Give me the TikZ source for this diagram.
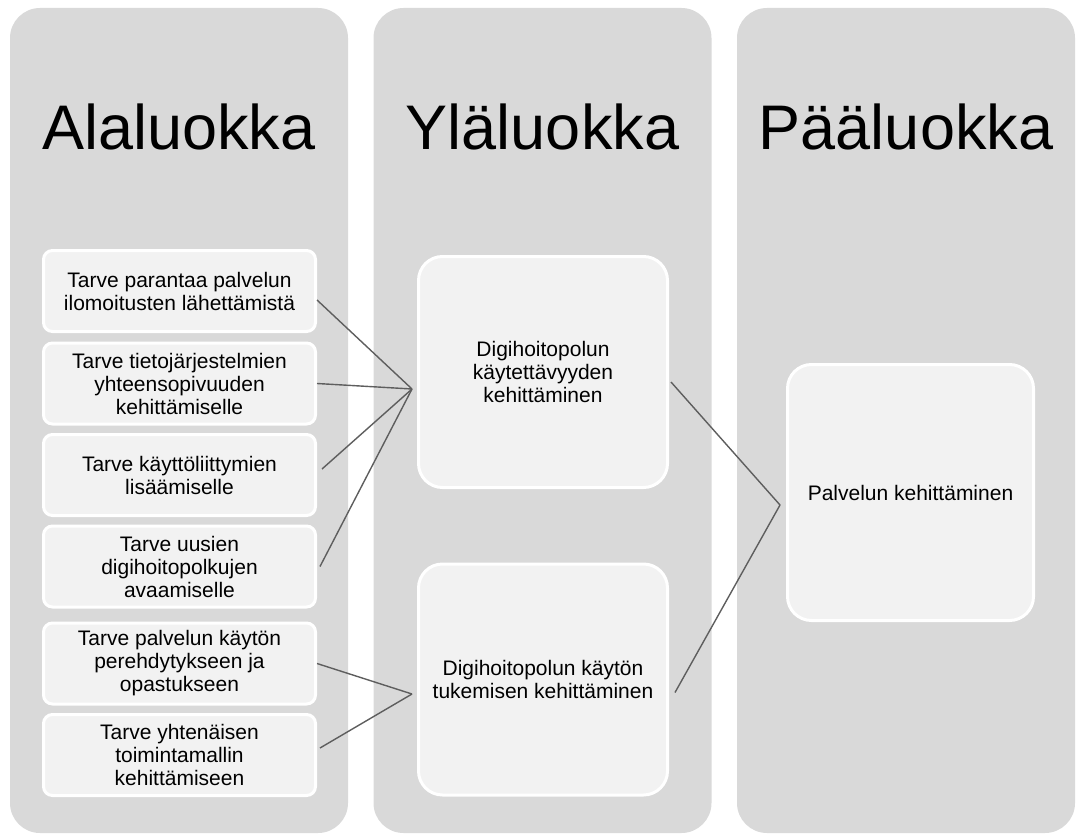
\documentclass[tikz,border=0pt]{standalone}
\usepackage{fontspec}
\setmainfont{Liberation Sans}
\usetikzlibrary{positioning}
\definecolor{lanegray}{HTML}{D9D9D9}
\definecolor{boxgray}{HTML}{F2F2F2}
\definecolor{linkgray}{HTML}{5E5E5E}
\tikzset{
  lane/.style={fill=lanegray, rounded corners=30pt, minimum width=338pt, minimum height=825pt, inner sep=0pt},
  header/.style={font=\fontsize{63}{70}\selectfont, anchor=base},
  need/.style={draw=white, line width=3pt, fill=boxgray, rounded corners=9pt, minimum width=272pt, minimum height=81pt, align=center, inner sep=0pt, font=\fontsize{21}{23}\selectfont},
  topic/.style={need, rounded corners=24pt, minimum width=249pt, minimum height=231pt},
  link/.style={linkgray, line width=1.4pt}
}

\begin{document}
\begin{tikzpicture}[x=1pt,y=-1pt]
  \useasboundingbox (0,0) rectangle (1083,834);
  % columns
  \node[lane] (laneA) at (179,420.5) {};
  \node[lane] (laneB) at (542.5,420.5) {};
  \node[lane] (laneC) at (906,420.5) {};
  \node[header] (hA) at (179,150) {Alaluokka};
  \node[header] (hB) at (542.5,150) {Yläluokka};
  \node[header] (hC) at (906,150) {Pääluokka};
  % subcategories
  \node[need] (n1) at (179.5,291) {Tarve parantaa palvelun\\ilomoitusten lähettämistä};
  \node[need] (n2) at (179.5,383.5) {Tarve tietojärjestelmien\\yhteensopivuuden\\kehittämiselle};
  \node[need] (n3) at (179.5,475) {Tarve käyttöliittymien\\lisäämiselle};
  \node[need] (n4) at (179.5,566.5) {Tarve uusien\\digihoitopolkujen\\avaamiselle};
  \node[need] (n5) at (179.5,663.5) {Tarve palvelun käytön\\perehdytykseen ja\\opastukseen};
  \node[need] (n6) at (179.5,755) {Tarve yhtenäisen\\toimintamallin\\kehittämiseen};
  % upper categories
  \node[topic] (tA) at (543,372) {Digihoitopolun\\käytettävyyden\\kehittäminen};
  \node[topic] (tB) at (543,679.5) {Digihoitopolun käytön\\tukemisen kehittäminen};
  \node[topic, minimum width=246pt, minimum height=256pt] (main) at (910.5,492.5) {Palvelun kehittäminen};
  % connectors
  \coordinate (hubA) at (412,389);
  \coordinate (hubB) at (412,694);
  \coordinate (hubC) at (780,505);
  \draw[link] ([yshift=-9pt]n1.east) -- (hubA);
  \draw[link] (n2.east) -- (hubA);
  \draw[link] ([xshift=5pt,yshift=6pt]n3.east) -- (hubA);
  \draw[link] ([xshift=3pt]n4.east) -- (hubA);
  \draw[link] (n5.east) -- (hubB);
  \draw[link] ([xshift=3pt,yshift=7pt]n6.east) -- (hubB);
  \draw[link] ([xshift=2pt,yshift=-10pt]tA.east) -- (hubC);
  \draw[link] ([xshift=6pt,yshift=-13pt]tB.east) -- (hubC);
\end{tikzpicture}
\end{document}
